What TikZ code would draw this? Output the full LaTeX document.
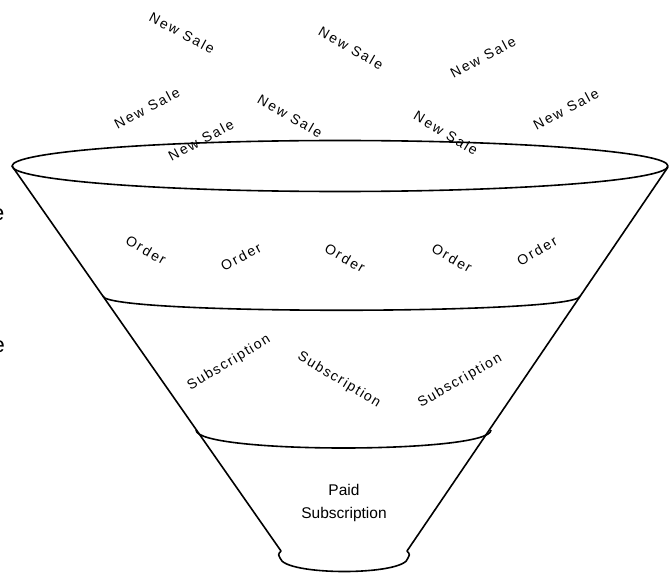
\documentclass[tikz,border=0pt]{standalone}
\usepackage{fontspec}
\setmainfont{Liberation Sans}
\newfontfamily\spacedfont[LetterSpace=14]{Liberation Sans}
\newfontfamily\subsfont[LetterSpace=11]{Liberation Sans}
\begin{document}
\begin{tikzpicture}[x=1pt,y=-1pt,
  funnel/.style={line width=1.6pt, black, line join=round},
  salelbl/.style={font=\spacedfont\fontsize{14}{14}\selectfont, inner sep=0pt},
  orderlbl/.style={font=\spacedfont\fontsize{14}{14}\selectfont, inner sep=0pt},
  subslbl/.style={font=\subsfont\fontsize{14}{14}\selectfont, inner sep=0pt},
  paidlbl/.style={font=\fontsize{15.5}{23}\selectfont, align=center, inner sep=0pt},
  edgelbl/.style={font=\fontsize{22}{22}\selectfont, inner sep=0pt, anchor=base east}]
\useasboundingbox (0,0) rectangle (669,580);
\clip (0,0) rectangle (669,580);
% funnel body
\draw[funnel] (340,166) ellipse [x radius=328pt, y radius=25.5pt];
\draw[funnel] (12,166) -- (281,551) .. controls (278,554) and (278,556) .. (280,558)
  .. controls (284,576) and (405,576) .. (408,558)
  .. controls (410,556) and (410,554) .. (407,551) -- (668,167);
\draw[funnel] (103,296) .. controls (103,315) and (580,315) .. (580,296);
\draw[funnel] (196,430) .. controls (196,454) and (491,454) .. (491,430);
% New Sale labels
\node[salelbl, rotate=-28] (ns1) at (182,33) {New Sale};
\node[salelbl, rotate=-30] (ns2) at (351,48) {New Sale};
\node[salelbl, rotate=28] (ns3) at (483,57) {New Sale};
\node[salelbl, rotate=28] (ns4) at (147,108) {New Sale};
\node[salelbl, rotate=-30] (ns5) at (290,116) {New Sale};
\node[salelbl, rotate=28] (ns6) at (201,140) {New Sale};
\node[salelbl, rotate=-31] (ns7) at (446,133) {New Sale};
\node[salelbl, rotate=28] (ns8) at (566,109) {New Sale};
% Order labels
\node[orderlbl, rotate=-30] (o1) at (146,250) {Order};
\node[orderlbl, rotate=28] (o2) at (241,257) {Order};
\node[orderlbl, rotate=-30] (o3) at (345,258) {Order};
\node[orderlbl, rotate=-30] (o4) at (452,258) {Order};
\node[orderlbl, rotate=30] (o5) at (537,251) {Order};
% Subscription labels
\node[subslbl, rotate=31] (s1) at (229,363) {Subscription};
\node[subslbl, rotate=-31] (s2) at (339,380) {Subscription};
\node[subslbl, rotate=30] (s3) at (460,381) {Subscription};
% Paid subscription
\node[paidlbl] (paid) at (344,503) {Paid\\Subscription};
% cut-off labels at the left edge
\node[edgelbl] (cut1) at (4.5,220) {e};
\node[edgelbl] (cut2) at (5,352) {e};
\node[edgelbl, text=black!40] (cut3) at (1.2,496) {s};
\end{tikzpicture}
\end{document}
